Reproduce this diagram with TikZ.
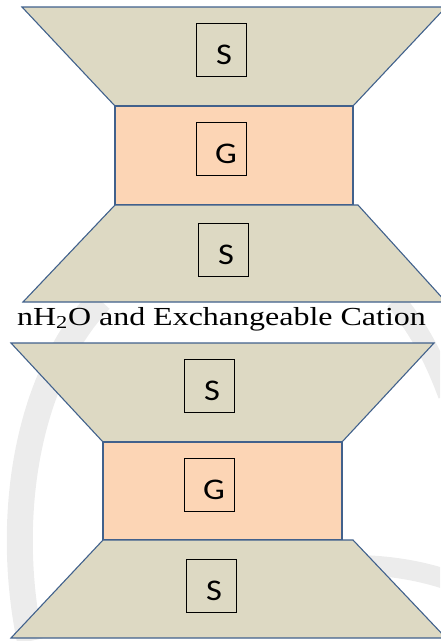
\documentclass[tikz,border=0pt]{standalone}
\usepackage{fontspec}
\setmainfont{Liberation Serif}
\newfontfamily\labelfont{Carlito}
\definecolor{silicate}{HTML}{DDD9C3}
\definecolor{gibbsite}{HTML}{FCD5B5}
\definecolor{edgeblue}{HTML}{41618C}
\definecolor{sealgray}{HTML}{ECECEC}
\tikzset{
  sheet/.style={draw=edgeblue, line width=1.1pt, line join=miter},
  tsheet/.style={sheet, fill=silicate},
  osheet/.style={sheet, fill=gibbsite},
  tag/.style={draw=black, line width=0.8pt, minimum width=50pt, minimum height=53pt, inner sep=0pt},
  tagtext/.style={font=\labelfont\fontsize{30}{30}\selectfont, inner sep=0pt, xscale=1.15},
  sealband/.style={draw=sealgray},
}
\begin{document}
\begin{tikzpicture}[x=1pt, y=-1pt]
\useasboundingbox (0,0) rectangle (440,641);
% faint background seal
\begin{scope}
  \clip (0,0) rectangle (440,641);
  \draw[sealband, line width=26pt] (100,300) .. controls (25,380) and (5,520) .. (30,641);
  \draw[sealband, line width=20pt] (395,300) .. controls (420,330) and (435,360) .. (448,395);
  \draw[sealband, line width=20pt] (360,565) .. controls (395,566) and (425,572) .. (448,580);
\end{scope}

% upper layer: silicate / gibbsite / silicate
\path[tsheet] (22,7) -- (446,7) -- (353,106) -- (115,106) -- cycle;
\path[osheet] (115,106) rectangle (353,205);
\path[tsheet] (115,205) -- (358,205) -- (446,302) -- (23,302) -- cycle;

% lower layer
\path[tsheet] (11,343) -- (434,343) -- (342,442) -- (103,442) -- cycle;
\path[osheet] (103,442) rectangle (342,540);
\path[tsheet] (103,540) -- (353,540) -- (446,638) -- (11,638) -- cycle;

% labelled boxes
\node[tag] (s1) at (221,49.5) {};
\node[tagtext] (s1t) at ([shift={(3,5)}]s1.center) {S};
\node[tag] (g1) at (221,148.5) {};
\node[tagtext] (g1t) at ([shift={(5,5)}]g1.center) {G};
\node[tag] (s2) at (223,249.5) {};
\node[tagtext] (s2t) at ([shift={(3,5)}]s2.center) {S};

\node[tag] (s3) at (209,385.5) {};
\node[tagtext] (s3t) at ([shift={(3,5)}]s3.center) {S};
\node[tag] (g2) at (209,485) {};
\node[tagtext] (g2t) at ([shift={(5,5)}]g2.center) {G};
\node[tag] (s4) at (211,586) {};
\node[tagtext] (s4t) at ([shift={(3,5)}]s4.center) {S};

% interlayer caption
\node[anchor=base, inner sep=0pt, xscale=1.23, font=\fontsize{26}{26}\selectfont] (cap) at (221.5,325)
  {nH\textsubscript{2}O and Exchangeable Cation};
\end{tikzpicture}
\end{document}
